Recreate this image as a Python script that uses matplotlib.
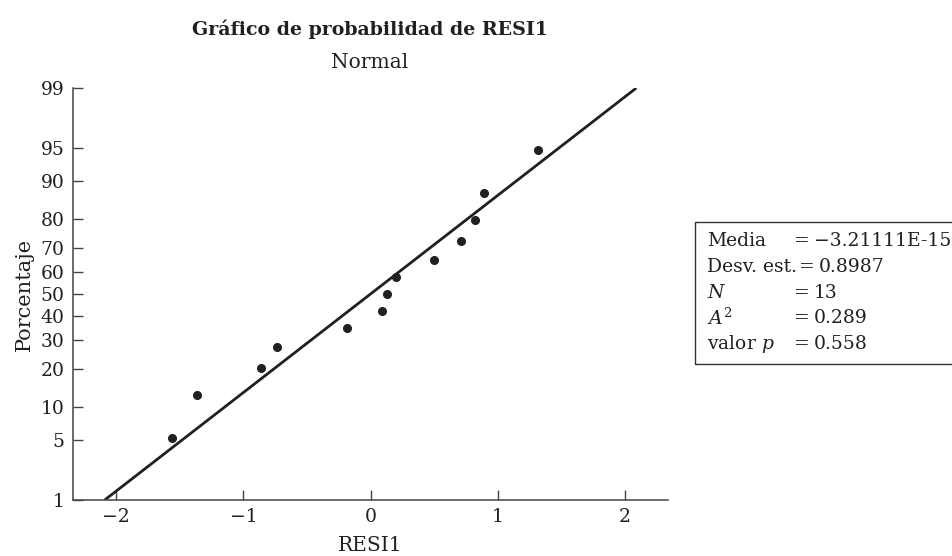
import numpy as np
import matplotlib
matplotlib.use('Agg')
import matplotlib.pyplot as plt
from matplotlib.patches import Rectangle
from statistics import NormalDist

# Residuals (RESI1) and their plotted percentages
resid = [-1.559, -1.362, -0.858, -0.732, -0.181, 0.087, 0.126,
         0.197, 0.496, 0.709, 0.819, 0.890, 1.315]
percent = [5.2, 12.7, 20.1, 27.6, 35.1, 42.5, 50.0,
           57.5, 64.9, 72.4, 79.9, 87.3, 94.8]

# Summary statistics
mean_val = -3.21111e-15
sd_val = 0.8987
stat_labels = ['Media', 'Desv. est.', '$N$', '$A^2$', 'valor $p$']
stat_values = ['\u22123.21111E-15', '0.8987', '13', '0.289', '0.558']

y_ticks = [1, 5, 10, 20, 30, 40, 50, 60, 70, 80, 90, 95, 99]
x_ticks = [-2, -1, 0, 1, 2]

nd = NormalDist()
_ppf = np.vectorize(nd.inv_cdf, otypes=[float])
_cdf = np.vectorize(nd.cdf, otypes=[float])


def prob_fwd(p):
    p = np.clip(np.asarray(p, dtype=float) / 100.0, 1e-9, 1 - 1e-9)
    return _ppf(p)


def prob_inv(z):
    return 100.0 * _cdf(np.asarray(z, dtype=float))


plt.rcParams['font.family'] = 'DejaVu Serif'
plt.rcParams['mathtext.fontset'] = 'dejavuserif'
ink = '#231f20'

W, H = 952, 556
fig = plt.figure(figsize=(W / 100, H / 100), dpi=100)
ax = fig.add_axes([73 / W, 1 - 500 / H, (668 - 73) / W, (500 - 88) / H])
ax.set_yscale('function', functions=(prob_fwd, prob_inv))

# fitted normal line between 1% and 99%
x_lo = mean_val + sd_val * nd.inv_cdf(0.01)
x_hi = mean_val + sd_val * nd.inv_cdf(0.99)
x_line = np.linspace(x_lo, x_hi, 100)
ax.plot(x_line, prob_inv((x_line - mean_val) / sd_val), color=ink, lw=2.0,
        solid_capstyle='butt')

ax.plot(resid, percent, 'o', color=ink, ms=5.5)

ax.set_xlim(-2.34, 2.34)
ax.set_ylim(1, 99)
ax.set_yticks(y_ticks)
ax.set_yticklabels([str(t) for t in y_ticks])
ax.set_xticks(x_ticks)
ax.minorticks_off()

for s in ['top', 'right']:
    ax.spines[s].set_visible(False)
for s in ['left', 'bottom']:
    ax.spines[s].set_linewidth(1.1)
    ax.spines[s].set_color('#444444')
ax.tick_params(direction='in', length=7, width=1, colors='#444444',
               labelcolor=ink, labelsize=13.5, pad=6)

ax.set_xlabel('RESI1', fontsize=14.5, color=ink, labelpad=7)
ax.set_ylabel('Porcentaje', fontsize=15, color=ink, labelpad=5)

fig.text(370 / W, 1 - 29 / H, 'Gráfico de probabilidad de RESI1',
         ha='center', va='center', fontsize=13.7, fontweight='bold', color=ink)
fig.text(370 / W, 1 - 63 / H, 'Normal', ha='center', va='center',
         fontsize=14.5, color=ink)

# statistics box on the right
box = Rectangle((695 / W, 1 - 364 / H), 300 / W, 142 / H,
                transform=fig.transFigure, fill=False, lw=1.0,
                edgecolor='#333333', clip_on=False)
fig.patches.append(box)

fig.canvas.draw()
renderer = fig.canvas.get_renderer()
row_y = [241, 267, 293, 318, 344]
eq_x = 794
for lab, val, yy in zip(stat_labels, stat_values, row_y):
    t = fig.text(707 / W, 1 - yy / H, lab, ha='left', va='center',
                 fontsize=13.5, color=ink)
    x_end = t.get_window_extent(renderer).x1
    x_eq = max(eq_x, x_end + 2)
    eq = fig.text(x_eq / W, 1 - yy / H, '=', ha='left', va='center',
                  fontsize=13.5, color=ink)
    x_val = eq.get_window_extent(renderer).x1 + 4
    fig.text(x_val / W, 1 - yy / H, val, ha='left', va='center',
             fontsize=13.5, color=ink)

fig.savefig('out.png', dpi=100)
